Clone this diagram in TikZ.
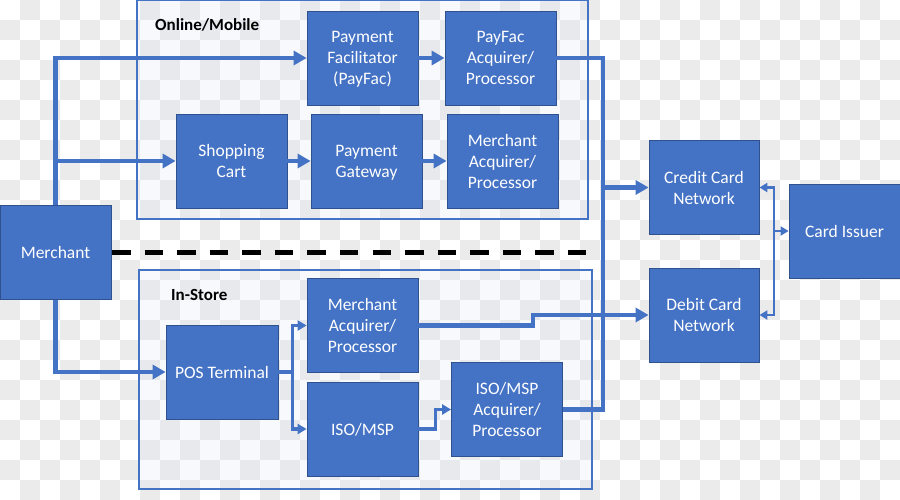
\documentclass[tikz,border=0pt]{standalone}
\usepackage{fontspec}
\setmainfont{Carlito}
\usetikzlibrary{arrows.meta}
\definecolor{obox}{RGB}{68,114,196}
\definecolor{oedge}{RGB}{47,82,143}
\definecolor{chk}{RGB}{235,235,235}
\definecolor{tint}{RGB}{220,225,240}
\tikzset{
  blk/.style={rectangle, fill=obox, draw=oedge, line width=0.8pt, text=white, align=center,
    inner sep=0pt, minimum width=111pt, minimum height=94pt, text depth=-3.5pt,
    font=\fontsize{17.5}{21}\selectfont},
  grp/.style={draw=obox, line width=1.4pt, fill=tint, fill opacity=0.2},
  grplabel/.style={anchor=west, inner sep=0pt, font=\fontsize{17}{20}\selectfont\bfseries},
  thickln/.style={draw=obox, line width=4.5pt, -{Triangle[length=13pt,width=14pt]}},
  thickplain/.style={draw=obox, line width=4.5pt},
  midln/.style={draw=obox, line width=3.2pt, -{Triangle[length=9pt,width=10pt]}},
  thinln/.style={draw=obox, line width=2.6pt},
  sep/.style={draw=black, line width=5pt, dash pattern=on 18.5pt off 14.07pt}
}
\begin{document}
\begin{tikzpicture}[x=1pt,y=-1pt]
\useasboundingbox (0,0) rectangle (900,500);
% checkerboard background
\fill[white] (0,0) rectangle (900,500);
\foreach \j in {0,...,24}{
  \pgfmathtruncatemacro{\s}{mod(\j+1,2)}
  \foreach \i in {0,...,22}{
    \fill[chk] ({40*\i+20*\s},{20*\j}) rectangle ++(20,20);
  }
}
% group boxes
\path[grp] (137,0.7) rectangle (588,219);
\path[grp] (139,270) rectangle (592,489);
\node[grplabel] (lonline) at (155,25) {Online/Mobile};
\node[grplabel] (linstore) at (171,295) {In-Store};
% separator
\draw[sep] (112,252) -- (587,252);
% nodes
\node[blk] (merchant) at (55.5,252.5) {Merchant};
\node[blk] (pf) at (362.5,58) {Payment\\Facilitator\\(PayFac)};
\node[blk] (pfacq) at (500.5,58) {PayFac\\Acquirer/\\Processor};
\node[blk] (cart) at (231.5,161) {Shopping\\Cart};
\node[blk] (gw) at (366.5,161) {Payment\\Gateway};
\node[blk] (macqa) at (502.5,161) {Merchant\\Acquirer/\\Processor};
\node[blk] (macqb) at (362.5,325.5) {Merchant\\Acquirer/\\Processor};
\node[blk, minimum width=112pt] (pos) at (222,372) {POS Terminal};
\node[blk] (iso) at (362.5,429) {ISO/MSP};
\node[blk] (isoacq) at (507,409.5) {ISO/MSP\\Acquirer/\\Processor};
\node[blk, minimum width=110pt] (ccn) at (704,187.5) {Credit Card\\Network};
\node[blk, minimum width=110pt] (dcn) at (704,315) {Debit Card\\Network};
\node[blk] (ci) at (844.5,231) {Card Issuer};
% helper coordinates
\coordinate (busx) at (603,0);
\coordinate (stepx) at (533,0);
\coordinate (cix) at (774,0);
% connectors
\draw[thickln] (merchant.north) -- (merchant.north |- pf.west) -- (pf.west);
\draw[thickln] (merchant.north |- cart.west) -- (cart.west);
\draw[thickln] (merchant.south) -- (merchant.south |- pos.west) -- (pos.west);
\draw[thickln] (pf.east) -- (pfacq.west);
\draw[thickln] (cart.east) -- (gw.west);
\draw[thickln] (gw.east) -- (macqa.west);
\draw[thickplain] (pfacq.east) -- (pfacq.east -| busx) -- (busx |- ccn.west);
\draw[thickplain] (isoacq.east) -- (isoacq.east -| busx) -- (busx |- ccn.west);
\draw[thickln] (busx |- ccn.west) -- (ccn.west);
\draw[thickln] (macqb.east) -- (macqb.east -| stepx) -- (stepx |- dcn.west) -- (dcn.west);
\draw[midln] (pos.east) -- ++(14,0) coordinate (posj) |- (macqb.west);
\draw[midln] (posj) |- (iso.west);
\draw[midln] (iso.east) -- ++(17,0) |- (isoacq.west);
\draw[thinln, {Triangle[length=8pt,width=9pt]}-{Triangle[length=8pt,width=9pt]}]
  (ccn.east) -- (ccn.east -| cix) -- (dcn.east -| cix) -- (dcn.east);
\draw[thinln, -{Triangle[length=8pt,width=9pt]}] (ci.west -| cix) -- (ci.west);
\end{tikzpicture}
\end{document}
